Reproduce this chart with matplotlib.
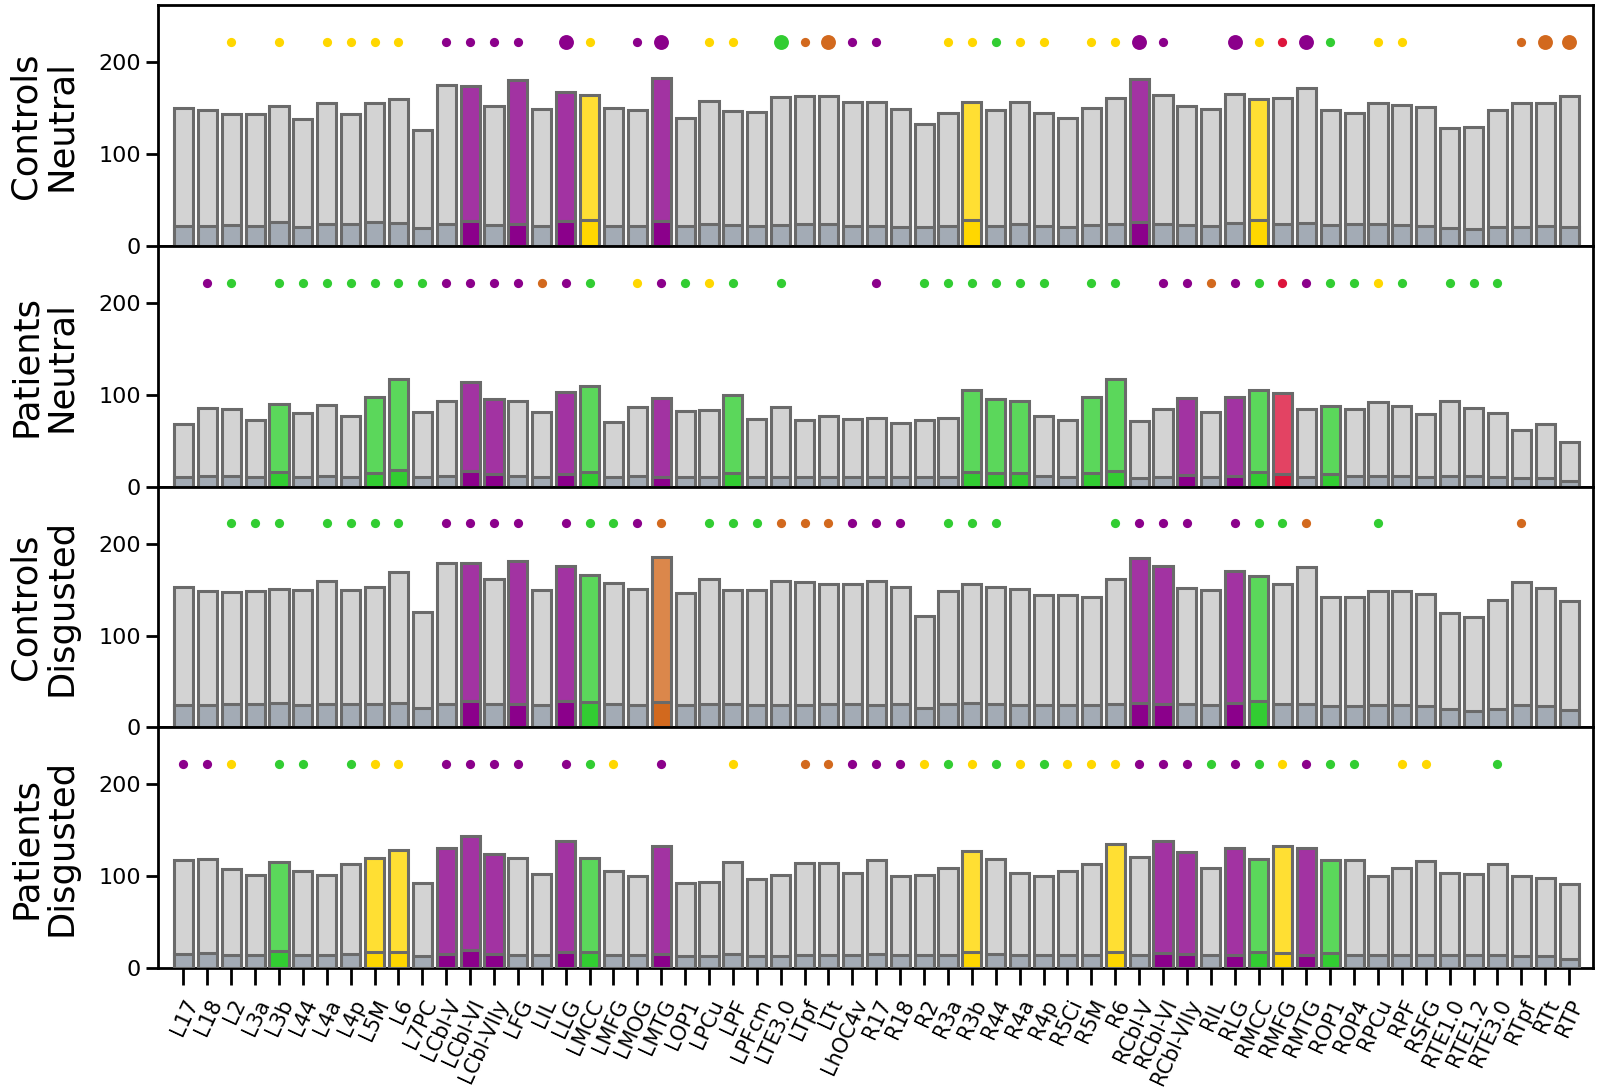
import matplotlib

matplotlib.use("Agg")
import matplotlib.pyplot as plt
from matplotlib.colors import to_rgba

REGIONS = [
    "L17", "L18", "L2", "L3a", "L3b", "L44", "L4a", "L4p", "L5M", "L6",
    "L7PC", "LCbl-V", "LCbl-VI", "LCbl-VIIy", "LFG", "LIL", "LLG", "LMCC", "LMFG", "LMOG",
    "LMTG", "LOP1", "LPCu", "LPF", "LPFcm", "LTE3.0", "LTpf", "LTt", "LhOC4v", "R17",
    "R18", "R2", "R3a", "R3b", "R44", "R4a", "R4p", "R5Ci", "R5M", "R6",
    "RCbl-V", "RCbl-VI", "RCbl-VIIy", "RIL", "RLG", "RMCC", "RMFG", "RMTG", "ROP1", "ROP4",
    "RPCu", "RPF", "RSFG", "RTE1.0", "RTE1.2", "RTE3.0", "RTpf", "RTt", "RTP",
]

PANEL_LABELS = ["Controls\nNeutral", "Patients\nNeutral", "Controls\nDisgusted", "Patients\nDisgusted"]

# total bar heights
CN_TOTAL = [150, 148, 143, 143, 152, 138, 155, 143, 155, 160,
            126, 175, 174, 152, 180, 149, 167, 164, 150, 148,
            183, 139, 158, 147, 146, 162, 163, 163, 156, 156,
            149, 133, 145, 156, 148, 156, 145, 139, 150, 161,
            182, 164, 152, 149, 165, 160, 161, 172, 148, 145,
            155, 153, 151, 128, 129, 148, 155, 155, 163]
PN_TOTAL = [68, 86, 85, 73, 90, 80, 89, 77, 97, 117,
            81, 93, 114, 95, 93, 81, 103, 109, 70, 87,
            96, 82, 83, 100, 74, 87, 72, 77, 74, 75,
            69, 73, 75, 105, 95, 93, 77, 73, 97, 117,
            71, 84, 96, 81, 97, 105, 102, 84, 88, 84,
            92, 88, 79, 93, 86, 80, 62, 68, 49]
CD_TOTAL = [153, 148, 147, 148, 151, 150, 159, 150, 153, 169,
            126, 179, 179, 161, 181, 150, 176, 166, 157, 151,
            186, 146, 161, 150, 150, 159, 158, 156, 156, 159,
            153, 121, 149, 156, 153, 151, 144, 144, 142, 162,
            184, 176, 152, 150, 170, 165, 156, 175, 142, 142,
            148, 148, 145, 124, 120, 139, 158, 152, 138]
PD_TOTAL = [118, 119, 108, 101, 116, 106, 102, 113, 120, 129,
            93, 131, 144, 124, 120, 103, 139, 120, 106, 100,
            133, 93, 94, 116, 97, 101, 115, 115, 104, 118,
            100, 101, 109, 128, 119, 104, 100, 106, 114, 135,
            121, 138, 127, 109, 131, 119, 133, 131, 118, 118,
            100, 109, 117, 104, 103, 113, 100, 98, 92]

# lower (inner) segment heights
CN_BASE = [22, 22, 23, 22, 26, 21, 24, 24, 26, 25,
           19, 24, 27, 23, 24, 22, 27, 28, 22, 22,
           27, 22, 24, 23, 22, 23, 24, 24, 22, 22,
           21, 20, 22, 28, 22, 24, 22, 21, 23, 24,
           26, 24, 23, 22, 25, 28, 24, 25, 23, 24,
           24, 23, 22, 19, 18, 20, 21, 22, 20]
PN_BASE = [10, 12, 12, 11, 16, 11, 12, 11, 15, 18,
           11, 12, 17, 14, 12, 11, 14, 16, 10, 12,
           10, 11, 11, 15, 11, 11, 10, 11, 11, 11,
           10, 11, 11, 16, 15, 15, 12, 11, 15, 17,
           9, 11, 13, 11, 12, 16, 14, 11, 14, 12,
           12, 12, 11, 12, 12, 11, 9, 9, 6]
CD_BASE = [24, 24, 25, 25, 27, 24, 25, 25, 26, 27,
           21, 26, 29, 26, 25, 24, 29, 28, 25, 24,
           28, 24, 26, 25, 24, 24, 24, 25, 25, 24,
           25, 21, 25, 27, 25, 24, 24, 24, 24, 26,
           27, 26, 25, 24, 27, 29, 25, 26, 23, 23,
           24, 24, 23, 20, 18, 20, 24, 23, 19]
PD_BASE = [16, 17, 15, 14, 19, 14, 14, 16, 18, 18,
           13, 16, 20, 16, 15, 14, 18, 18, 14, 14,
           16, 13, 13, 16, 13, 13, 15, 15, 14, 16,
           14, 14, 15, 18, 16, 14, 14, 14, 15, 18,
           15, 17, 16, 14, 15, 18, 17, 15, 17, 15,
           14, 14, 15, 14, 14, 14, 13, 13, 10]

# highlighted bars: index -> colour code
CN_HIGHLIGHT = {12: "p", 14: "p", 16: "p", 17: "y", 20: "p", 33: "y", 40: "p", 45: "y"}
PN_HIGHLIGHT = {4: "g", 8: "g", 9: "g", 12: "p", 13: "p", 16: "p", 17: "g", 20: "p",
                23: "g", 33: "g", 34: "g", 35: "g", 38: "g", 39: "g", 42: "p", 44: "p",
                45: "g", 46: "r", 48: "g"}
CD_HIGHLIGHT = {12: "p", 14: "p", 16: "p", 17: "g", 20: "o", 40: "p", 41: "p", 44: "p", 45: "g"}
PD_HIGHLIGHT = {4: "g", 8: "y", 9: "y", 11: "p", 12: "p", 13: "p", 16: "p", 17: "g", 20: "p",
                33: "y", 39: "y", 41: "p", 42: "p", 44: "p", 45: "g", 46: "y", 47: "p", 48: "g"}

# dots above the bars: colour code -> indices (upper case = large dot)
CN_DOTS = {
    "y": [2, 4, 6, 7, 8, 9, 17, 22, 23, 32, 33, 35, 36, 38, 39, 45, 50, 51],
    "p": [11, 12, 13, 14, 19, 28, 29, 41],
    "P": [16, 20, 40, 44, 47],
    "g": [34, 48],
    "G": [25],
    "o": [26, 56],
    "O": [27, 57, 58],
    "r": [46],
}
PN_DOTS = {
    "p": [1, 11, 12, 13, 14, 16, 20, 29, 41, 42, 44, 47],
    "g": [2, 4, 5, 6, 7, 8, 9, 10, 17, 21, 23, 25, 31, 32, 33, 34, 35, 36, 38, 39,
          45, 48, 49, 51, 53, 54, 55],
    "o": [15, 43],
    "y": [19, 22, 50],
    "r": [46],
}
CD_DOTS = {
    "g": [2, 3, 4, 6, 7, 8, 9, 17, 18, 22, 23, 24, 32, 33, 34, 39, 45, 46, 50],
    "p": [11, 12, 13, 14, 16, 19, 28, 29, 30, 40, 41, 42, 44],
    "o": [20, 25, 26, 27, 47, 56],
}
PD_DOTS = {
    "p": [0, 1, 11, 12, 13, 14, 16, 20, 28, 29, 30, 40, 41, 42, 44, 47],
    "y": [2, 8, 9, 18, 23, 31, 33, 35, 37, 38, 39, 46, 51, 52],
    "g": [4, 5, 7, 17, 32, 34, 36, 43, 45, 48, 49, 55],
    "o": [26, 27],
}

COLORS = {"p": "#8b008b", "y": "#ffd700", "g": "#32cd32", "o": "#d2691e", "r": "#dc143c"}
GRAY_TOP = "#d3d3d3"
GRAY_BASE = "#a3abb5"
EDGE = "#6a6a6a"
DOT_Y = 222


def lighten(color, alpha=0.8):
    r, g, b, _ = to_rgba(color)
    return (alpha * r + 1 - alpha, alpha * g + 1 - alpha, alpha * b + 1 - alpha)


def draw_panel(ax, totals, bases, highlight, dots, label):
    x = range(len(REGIONS))
    top_colors = [lighten(COLORS[highlight[i]]) if i in highlight else GRAY_TOP for i in x]
    base_colors = [COLORS[highlight[i]] if i in highlight else GRAY_BASE for i in x]
    ax.bar(x, totals, width=0.8, color=top_colors, edgecolor=EDGE, linewidth=2.2, zorder=2)
    ax.bar(x, bases, width=0.8, color=base_colors, edgecolor=EDGE, linewidth=2.2, zorder=3)

    for code, idx in dots.items():
        size = 115 if code.isupper() else 44
        ax.scatter(idx, [DOT_Y] * len(idx), s=size, color=COLORS[code.lower()],
                   linewidths=0, zorder=4)

    ax.set_ylim(0, 262)
    ax.set_xlim(-1.05, 59.0)
    ax.set_yticks([0, 100, 200])
    ax.set_ylabel(label, fontsize=25.5, linespacing=1.05)
    ax.yaxis.set_label_coords(-0.056, 0.5)
    ax.tick_params(axis="y", labelsize=16, length=9, width=2)
    for spine in ax.spines.values():
        spine.set_linewidth(2)


fig, axes = plt.subplots(4, 1, figsize=(16, 10.87), dpi=100, sharex=True)
fig.subplots_adjust(left=0.099, right=0.9956, top=0.9954, bottom=0.1092, hspace=0)

panels = [
    (CN_TOTAL, CN_BASE, CN_HIGHLIGHT, CN_DOTS),
    (PN_TOTAL, PN_BASE, PN_HIGHLIGHT, PN_DOTS),
    (CD_TOTAL, CD_BASE, CD_HIGHLIGHT, CD_DOTS),
    (PD_TOTAL, PD_BASE, PD_HIGHLIGHT, PD_DOTS),
]
for ax, (totals, bases, highlight, dots), label in zip(axes, panels, PANEL_LABELS):
    draw_panel(ax, totals, bases, highlight, dots, label)

for ax in axes[:-1]:
    ax.tick_params(axis="x", length=0)

bottom = axes[-1]
bottom.set_xticks(range(len(REGIONS)))
bottom.set_xticklabels(REGIONS, rotation=65, ha="right", rotation_mode="anchor", fontsize=15)
bottom.tick_params(axis="x", length=12, width=2, pad=8)

fig.savefig("out.png", dpi=100)
